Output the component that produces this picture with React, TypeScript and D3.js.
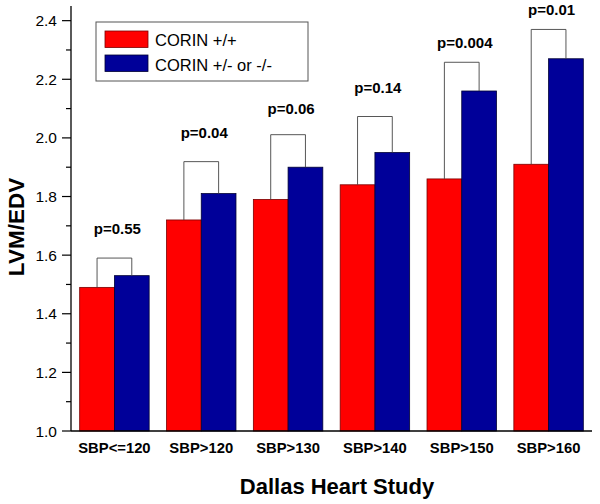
import React from 'react';
import * as d3 from 'd3';

const categories = ['SBP<=120', 'SBP>120', 'SBP>130', 'SBP>140', 'SBP>150', 'SBP>160'];
const wildType = [1.49, 1.72, 1.79, 1.84, 1.86, 1.91];
const mutant = [1.53, 1.81, 1.9, 1.95, 2.16, 2.27];
const pLabels = ['p=0.55', 'p=0.04', 'p=0.06', 'p=0.14', 'p=0.004', 'p=0.01'];
// bracket top and label centre, in LVM/EDV units
const bracketTops = [1.59, 1.919, 2.011, 2.073, 2.258, 2.37];
const labelLevels = [1.69, 2.016, 2.098, 2.171, 2.325, 2.435];
const yTicks = [1.0, 1.2, 1.4, 1.6, 1.8, 2.0, 2.2, 2.4];
const yMinorTicks = [1.1, 1.3, 1.5, 1.7, 1.9, 2.1, 2.3];
const seriesNames = ['CORIN +/+', 'CORIN +/- or -/-'];

const RED = '#ff0000';
const BLUE = '#000099';

export default function App() {
  const width = 600;
  const height = 504;
  const left = 71;
  const right = 592;
  const top = 6;
  const bottom = 431;

  const x = d3.scaleBand<string>().domain(categories).range([left, right]).paddingInner(0.2).paddingOuter(0.1);
  const sub = d3.scaleBand<number>().domain([0, 1]).range([0, x.bandwidth()]);
  const y = d3.scaleLinear().domain([1.0, 2.45]).range([bottom, top]);

  const font = 'Arial, "Liberation Sans", Helvetica, sans-serif';

  return (
    <svg width={width} height={height} style={{ position: 'absolute', left: 0, top: 0, background: '#fff' }} fontFamily={font}>
      {/* bars */}
      {categories.map((c, i) => {
        const x0 = x(c)!;
        return (
          <g key={c}>
            <rect x={x0 + sub(0)!} y={y(wildType[i])} width={sub.bandwidth()} height={bottom - y(wildType[i])}
              fill={RED} stroke="#7a0000" strokeWidth={0.8} />
            <rect x={x0 + sub(1)!} y={y(mutant[i])} width={sub.bandwidth()} height={bottom - y(mutant[i])}
              fill={BLUE} stroke="#000033" strokeWidth={0.8} />
          </g>
        );
      })}

      {/* significance brackets */}
      {categories.map((c, i) => {
        const x0 = x(c)!;
        const lx = x0 + sub(0)! + sub.bandwidth() / 2;
        const rx = x0 + sub(1)! + sub.bandwidth() / 2;
        const ty = y(bracketTops[i]);
        return (
          <g key={'b' + c}>
            <path d={`M${lx},${y(wildType[i])}V${ty}H${rx}V${y(mutant[i])}`} fill="none" stroke="#444" strokeWidth={0.9} />
            <text x={(lx + rx) / 2 + 3} y={y(labelLevels[i]) + 5} textAnchor="middle" fontSize={15} fontWeight="bold" fill="#000">
              {pLabels[i]}
            </text>
          </g>
        );
      })}

      {/* axes */}
      <line x1={left} x2={left} y1={top} y2={bottom} stroke="#000" strokeWidth={1.3} />
      <line x1={left} x2={right} y1={bottom} y2={bottom} stroke="#000" strokeWidth={1.3} />
      {yTicks.map((t) => (
        <g key={t}>
          <line x1={left - 9} x2={left} y1={y(t)} y2={y(t)} stroke="#000" strokeWidth={1.2} />
          <text x={57} y={y(t) + 5.5} textAnchor="end" fontSize={15.5} fill="#000">{t.toFixed(1)}</text>
        </g>
      ))}
      {yMinorTicks.map((t) => (
        <line key={t} x1={left - 5} x2={left} y1={y(t)} y2={y(t)} stroke="#000" strokeWidth={1.2} />
      ))}
      {categories.map((c) => (
        <text key={'l' + c} x={x(c)! + x.bandwidth() / 2} y={453} textAnchor="middle" fontSize={14.8} fontWeight="bold" fill="#000">
          {c}
        </text>
      ))}

      {/* axis titles */}
      <text transform="translate(24,227) rotate(-90)" textAnchor="middle" fontSize={22.5} fontWeight="bold" fill="#000">LVM/EDV</text>
      <text x={337} y={494} textAnchor="middle" fontSize={22} fontWeight="bold" fill="#000">Dallas Heart Study</text>

      {/* legend */}
      <rect x={96} y={22} width={212} height={59} fill="#fff" stroke="#555" strokeWidth={1} />
      {seriesNames.map((s, i) => (
        <g key={s}>
          <rect x={105} y={31 + i * 24} width={43} height={16.5} fill={i === 0 ? RED : BLUE} stroke={i === 0 ? '#7a0000' : '#000033'} strokeWidth={0.8} />
          <text x={155} y={46 + i * 25} fontSize={16.5} fill="#000">{s}</text>
        </g>
      ))}
    </svg>
  );
}
